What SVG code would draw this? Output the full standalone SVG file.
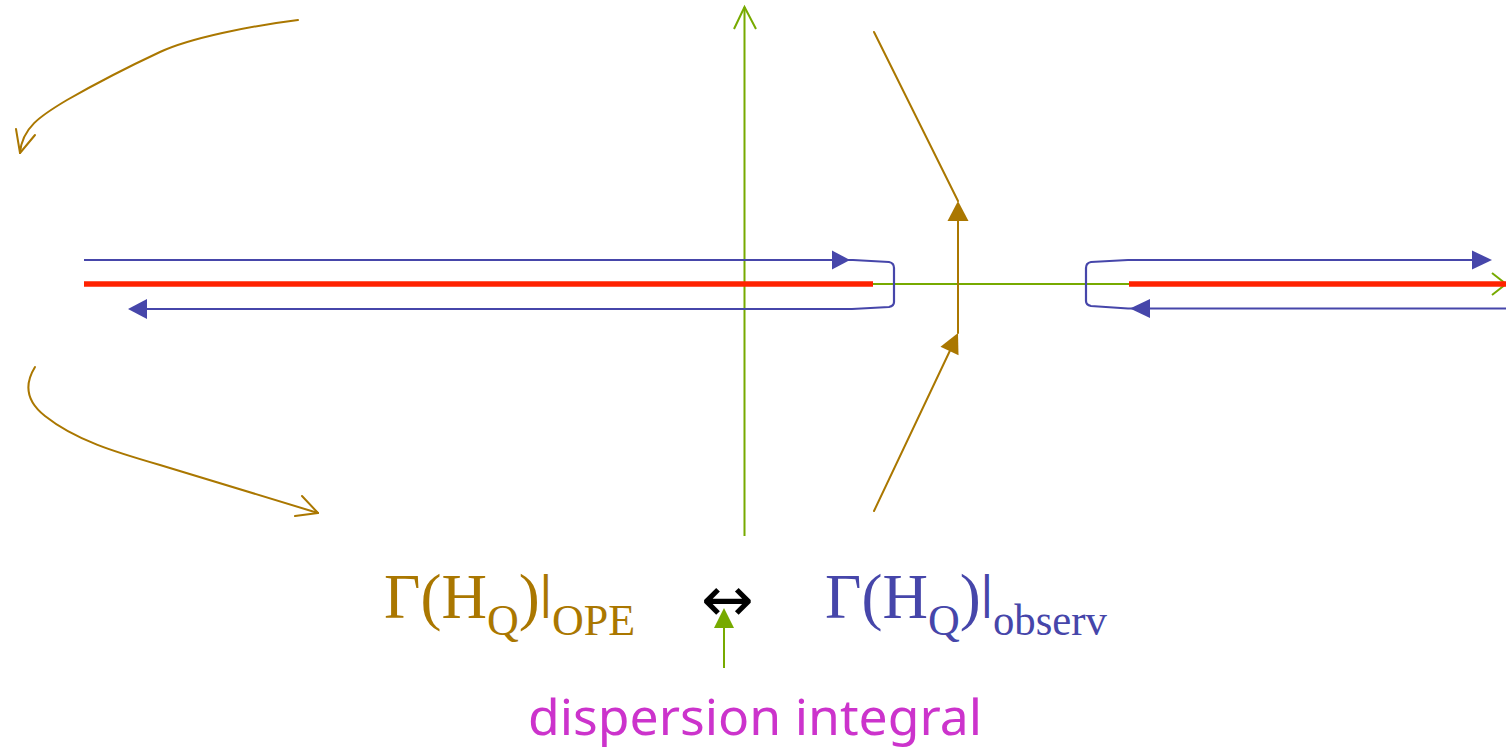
<svg xmlns="http://www.w3.org/2000/svg" width="1506" height="748" viewBox="0 0 1506 748">
<style>
.g{stroke:#77AA00;stroke-width:2;fill:none}
.b{stroke:#4646AA;stroke-width:2.2;fill:none;stroke-linejoin:round}
.br{stroke:#AA7700;stroke-width:2;fill:none;stroke-linecap:round;stroke-linejoin:round}
.red{stroke:#FF2200;stroke-width:5.5;fill:none}
.bf{fill:#4646AA}
.brf{fill:#AA7700}
.gf{fill:#77AA00}
.t{font-family:"Liberation Serif","Times New Roman",serif;font-size:63px}
</style>
<rect width="1506" height="748" fill="#ffffff"/>
<g id="connectors">
  <!-- axes -->
  <line class="g" x1="84" y1="284" x2="1506" y2="284"/>
  <polyline class="g" points="1492,273 1506,284 1492,295"/>
  <line class="g" x1="744.5" y1="536" x2="744.5" y2="7"/>
  <polyline class="g" points="734,29 744.5,7 756,29"/>
  <!-- cuts -->
  <line class="red" x1="84" y1="284" x2="873" y2="284"/>
  <line class="red" x1="1129" y1="284" x2="1506" y2="284"/>
  <!-- blue contours -->
  <path class="b" d="M84,260 H853 L889,262 Q894,263 894,268 V302 Q894,306 889,307 L852,309 H130"/>
  <polygon class="bf" points="850,260 832,250.5 832,269.5"/>
  <polygon class="bf" points="128,309 147,299 147,319"/>
  <path class="b" d="M1490,260 H1128 L1091,262 Q1086,263 1086,268 V301 Q1086,305 1091,306 L1128,308.5 H1506"/>
  <polygon class="bf" points="1492,260 1472,250.5 1472,269.5"/>
  <polygon class="bf" points="1130,308.5 1150,299 1150,318"/>
  <!-- brown contour -->
  <line class="br" x1="874" y1="32" x2="958" y2="201"/>
  <line class="br" x1="958" y1="333" x2="958" y2="215"/>
  <polygon class="brf" points="958,201 947.5,221 968.5,221"/>
  <line class="br" x1="874" y1="511" x2="955" y2="340"/>
  <polygon class="brf" points="958,333 940.5,346.7 958.5,355.3"/>
  <!-- brown curved arrows -->
  <path class="br" d="M298,20 C250,26 190,38 160,52 C130,66 95,84 67,100 C40,116 22,128 20,153"/>
  <polyline class="br" points="16,129 20,153 35,135"/>
  <path class="br" d="M35,367 C27,380 22,398 45,416 C75,440 115,452 160,465 L318,513"/>
  <polyline class="br" points="302,496 318,513 295,516"/>
  <!-- small green arrow -->
  <line class="g" x1="724" y1="668" x2="724" y2="624"/>
  <polygon class="gf" points="724,608 714,628 734,628"/>
</g>
<g id="label-ope">
  <text class="t" x="384" y="618" fill="#AA7700">Γ(H<tspan font-size="44" dy="17">Q</tspan><tspan dy="-17">)</tspan><tspan font-family="Liberation Sans, Arial, sans-serif" font-size="47" dy="-10">|</tspan><tspan font-size="44" dy="27">OPE</tspan></text>
</g>
<g id="label-equiv">
  <text x="727.5" y="621" font-family="DejaVu Sans, sans-serif" font-size="63" text-anchor="middle" fill="#000000">↔</text>
</g>
<g id="label-observ">
  <text class="t" x="825" y="618" fill="#4646AA">Γ(H<tspan font-size="44" dy="17">Q</tspan><tspan dy="-17">)</tspan><tspan font-family="Liberation Sans, Arial, sans-serif" font-size="47" dy="-10">|</tspan><tspan font-size="44" dy="27" textLength="114" lengthAdjust="spacingAndGlyphs">observ</tspan></text>
</g>
<g id="label-dispersion">
  <text x="528" y="735" font-family="Comic Sans MS, Noto Sans, sans-serif" font-size="50" fill="#CC33CC" textLength="454" lengthAdjust="spacingAndGlyphs">dispersion integral</text>
</g>
</svg>
